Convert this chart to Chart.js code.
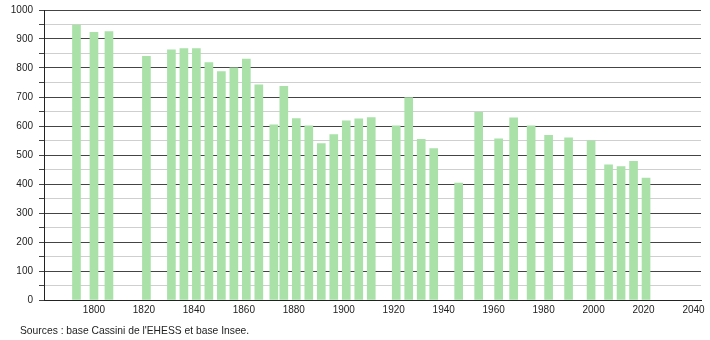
<!DOCTYPE html>
<html>
<head>
<meta charset="utf-8">
<script src="https://cdn.jsdelivr.net/npm/chart.js@4/dist/chart.umd.min.js"></script>
<style>
  body { margin: 0; background: #fff; }
  #wrap { position: relative; width: 710px; height: 340px; }
  #source { position: absolute; left: 20px; top: 325px; font: 10.3px "Liberation Sans", Arial, sans-serif; color: #222; }
</style>
</head>
<body>
<div id="wrap">
  <canvas id="pop" width="710" height="340"></canvas>
  <div id="source">Sources : base Cassini de l'EHESS et base Insee.</div>
</div>
<script>
// census years and population
var years = [1793, 1800, 1806, 1821, 1831, 1836, 1841, 1846, 1851, 1856, 1861, 1866, 1872, 1876, 1881, 1886, 1891, 1896, 1901, 1906, 1911, 1921, 1926, 1931, 1936, 1946, 1954, 1962, 1968, 1975, 1982, 1990, 1999, 2006, 2011, 2016, 2021];
var population = [948, 923, 926, 840, 863, 867, 867, 819, 788, 801, 831, 742, 604, 737, 626, 601, 539, 570, 618, 625, 629, 601, 698, 554, 522, 403, 647, 556, 628, 601, 568, 559, 549, 466, 460, 478, 420];
var xTicks = [1800, 1820, 1840, 1860, 1880, 1900, 1920, 1940, 1960, 1980, 2000, 2020, 2040];

var points = years.map(function(y, i) { return { x: y, y: population[i] }; });
var font = { family: "'Liberation Sans', Arial, sans-serif", size: 10 };

new Chart(document.getElementById("pop"), {
  type: "bar",
  data: {
    datasets: [{
      data: points,
      backgroundColor: "#a9e1a9",
      barThickness: 8
    }]
  },
  options: {
    responsive: false,
    animation: false,
    layout: { padding: { left: 0, right: 9, top: 10, bottom: 20 } },
    plugins: { legend: { display: false }, tooltip: { enabled: false } },
    scales: {
      x: {
        type: "linear",
        min: 1780,
        max: 2043,
        offset: false,
        afterBuildTicks: function(scale) {
          scale.ticks = xTicks.map(function(v) { return { value: v }; });
        },
        ticks: {
          color: "#222", font: font, padding: 4, maxRotation: 0, autoSkip: false,
          callback: function(v) { return String(v); }
        },
        grid: { display: false, drawTicks: false },
        border: { display: true, color: "#222", width: 1 }
      },
      y: {
        min: 0,
        max: 1000,
        afterFit: function(scale) {
          scale.width = 44;
          scale.paddingTop = 0;
          scale.paddingBottom = 0;
        },
        ticks: {
          stepSize: 50,
          autoSkip: false,
          color: "#222",
          font: font,
          padding: 6,
          callback: function(v) { return v % 100 === 0 ? String(v) : " "; }
        },
        grid: {
          // dark line every 100, light one in between
          color: function(ctx) { return ctx.index % 2 === 0 ? "#444" : "#cfcfcf"; },
          tickColor: "#444",
          tickLength: 5
        },
        border: { display: true, color: "#222", width: 1 }
      }
    }
  }
});
</script>
</body>
</html>
